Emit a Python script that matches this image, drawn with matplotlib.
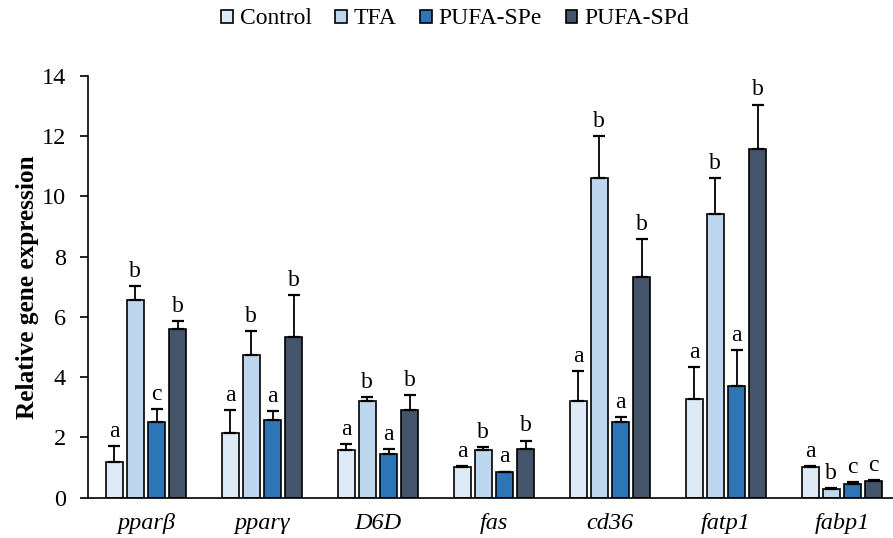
import matplotlib
matplotlib.use('Agg')
import matplotlib.pyplot as plt
import numpy as np

plt.rcParams['font.family'] = ['Liberation Serif', 'DejaVu Serif']

genes = ['pparβ', 'pparγ', 'D6D', 'fas', 'cd36', 'fatp1', 'fabp1']
groups = ['Control', 'TFA', 'PUFA-SPe', 'PUFA-SPd']

control = [1.17, 2.13, 1.57, 1.02, 3.21, 3.26, 1.01]
control_err = [0.55, 0.77, 0.20, 0.02, 1.00, 1.07, 0.02]
tfa = [6.57, 4.72, 3.22, 1.59, 10.62, 9.40, 0.27]
tfa_err = [0.46, 0.81, 0.12, 0.09, 1.38, 1.20, 0.05]
spe = [2.51, 2.59, 1.46, 0.86, 2.50, 3.72, 0.45]
spe_err = [0.42, 0.27, 0.16, 0.0, 0.18, 1.17, 0.06]
spd = [5.61, 5.33, 2.89, 1.62, 7.33, 11.59, 0.54]
spd_err = [0.25, 1.39, 0.52, 0.27, 1.24, 1.46, 0.05]

letters_control = ['a', 'a', 'a', 'a', 'a', 'a', 'a']
letters_tfa = ['b', 'b', 'b', 'b', 'b', 'b', 'b']
letters_spe = ['c', 'a', 'a', 'a', 'a', 'a', 'c']
letters_spd = ['b', 'b', 'b', 'b', 'b', 'b', 'c']

colors = ['#DEEAF6', '#BDD7EE', '#2E75B6', '#44546A']

means = [control, tfa, spe, spd]
errs = [control_err, tfa_err, spe_err, spd_err]
letters = [letters_control, letters_tfa, letters_spe, letters_spd]

fig = plt.figure(figsize=(8.93, 5.38), dpi=100)
ax = fig.add_axes([88/893, 40.5/538, 812/893, 421.5/538])

x = np.arange(len(genes))
step = 0.183
width = 0.145
for k in range(4):
    pos = x + (k - 1.5) * step
    m = np.array(means[k])
    e = np.array(errs[k])
    ax.bar(pos, m, width, color=colors[k], edgecolor='black', linewidth=1.2,
           label=groups[k], zorder=2,
           yerr=[np.zeros_like(e), e],
           error_kw=dict(ecolor='black', elinewidth=1.3, capsize=4, capthick=1.6))
    for p, v, ee, t in zip(pos, m, e, letters[k]):
        ax.annotate(t, (p, v + ee), xytext=(0, 3), textcoords='offset points',
                    ha='center', va='bottom', fontsize=17)

ax.set_xlim(-0.5, 6.5)
ax.set_ylim(0, 14)
ax.set_yticks(np.arange(0, 15, 2))
ax.set_xticks(x)
ax.set_xticklabels(genes, fontstyle='italic', fontsize=17.5)
ax.tick_params(axis='x', length=0, pad=11)
ax.tick_params(axis='y', labelsize=17.5, length=6, width=1.2, direction='out', pad=10)
ax.spines['top'].set_visible(False)
ax.spines['right'].set_visible(False)
ax.spines['left'].set_linewidth(1.2)
ax.spines['bottom'].set_linewidth(1.2)
ax.set_ylabel('Relative gene expression', fontsize=18.2, fontweight='bold', labelpad=2)

fig.legend(loc='center', bbox_to_anchor=(455/893, 1 - 19/538), ncol=4, frameon=False,
           fontsize=17, handlelength=0.48, handleheight=0.48, handletextpad=0.3,
           columnspacing=1.0, borderaxespad=0)

fig.savefig('out.png', dpi=100)
